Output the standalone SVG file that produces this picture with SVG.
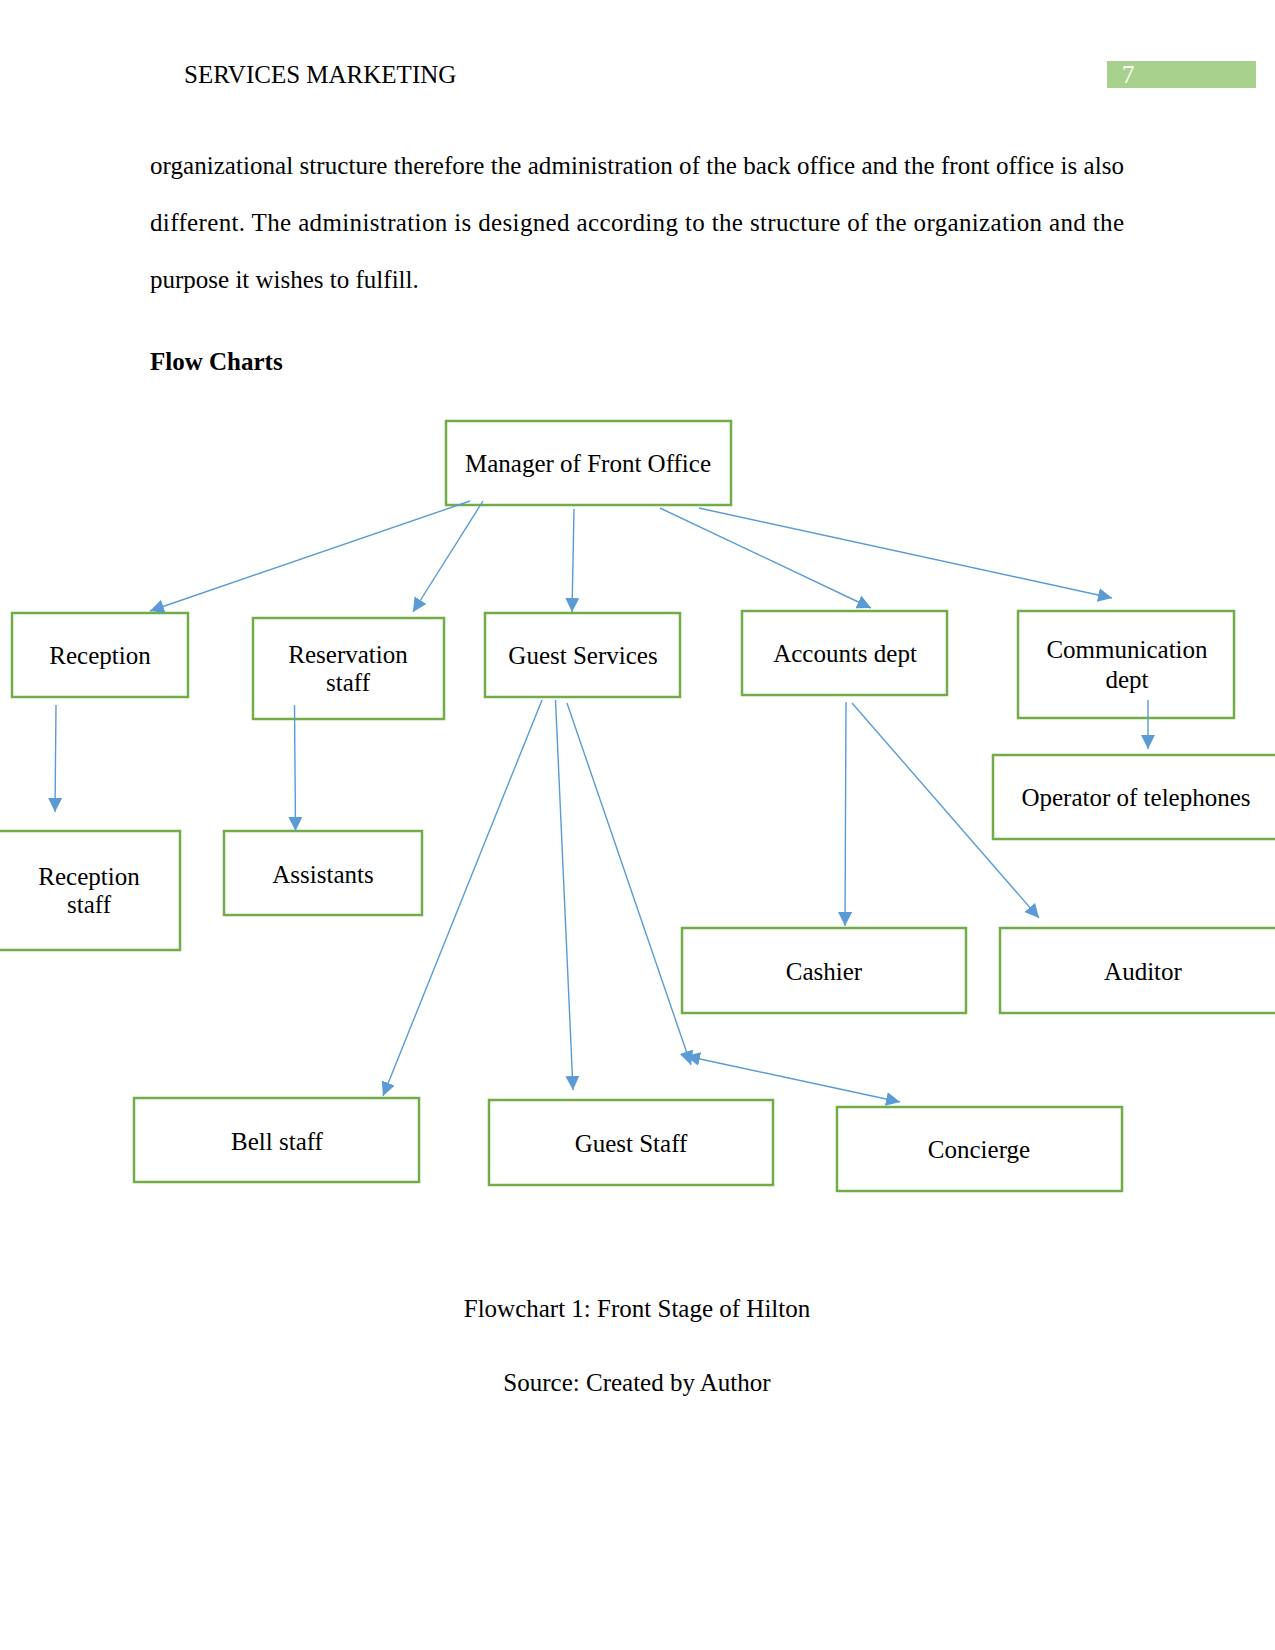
<svg xmlns="http://www.w3.org/2000/svg" width="1275" height="1650" viewBox="0 0 1275 1650">
<defs>
<style>
text{font-family:"Liberation Serif","Times New Roman",serif;font-size:25px;fill:#000}
.c{text-anchor:middle}
.box{fill:#fff;stroke:#70AD47;stroke-width:2.5}
.ln{stroke:#5B9BD5;stroke-width:1.4;fill:none}
</style>
<marker id="ah" viewBox="0 0 10 10" refX="10" refY="5" markerWidth="14" markerHeight="14" markerUnits="userSpaceOnUse" orient="auto-start-reverse">
<path d="M0,0 L10,5 L0,10 z" fill="#5B9BD5"/>
</marker>
</defs>
<rect width="1275" height="1650" fill="#fff"/>
<g id="header">
<text x="184" y="83">SERVICES MARKETING</text>
<rect x="1107" y="61" width="149" height="27" fill="#A9D18E"/>
<text x="1122" y="83" style="fill:#fff">7</text>
</g>
<g id="body">
<text x="150" y="173.5" textLength="974" lengthAdjust="spacing">organizational structure therefore the administration of the back office and the front office is also</text>
<text x="150" y="230.5" textLength="974" lengthAdjust="spacing">different. The administration is designed according to the structure of the organization and the</text>
<text x="150" y="288">purpose it wishes to fulfill.</text>
<text x="150" y="370" style="font-weight:bold">Flow Charts</text>
</g>
<g id="manager"><rect class="box" x="446" y="421" width="285" height="84"/><text class="c" x="588" y="472">Manager of Front Office</text></g>
<g id="reception"><rect class="box" x="12" y="613" width="176" height="84"/><text class="c" x="100" y="664">Reception</text></g>
<g id="reservation"><rect class="box" x="253" y="618" width="191" height="101"/><text class="c" x="348" y="663">Reservation</text><text class="c" x="348" y="691">staff</text></g>
<g id="guest-services"><rect class="box" x="485" y="613" width="195" height="84"/><text class="c" x="583" y="664">Guest Services</text></g>
<g id="accounts"><rect class="box" x="742" y="611" width="205" height="84"/><text class="c" x="845" y="662">Accounts dept</text></g>
<g id="communication"><rect class="box" x="1018" y="611" width="216" height="107"/><text class="c" x="1127" y="658">Communication</text><text class="c" x="1127" y="688">dept</text></g>
<g id="operator"><rect class="box" x="993" y="755" width="290" height="84"/><text class="c" x="1136" y="806">Operator of telephones</text></g>
<g id="reception-staff"><rect class="box" x="-2" y="831" width="182" height="119"/><text class="c" x="89" y="885">Reception</text><text class="c" x="89" y="913">staff</text></g>
<g id="assistants"><rect class="box" x="224" y="831" width="198" height="84"/><text class="c" x="323" y="883">Assistants</text></g>
<g id="cashier"><rect class="box" x="682" y="928" width="284" height="85"/><text class="c" x="824" y="980">Cashier</text></g>
<g id="auditor"><rect class="box" x="1000" y="928" width="285" height="85"/><text class="c" x="1143" y="980">Auditor</text></g>
<g id="bell-staff"><rect class="box" x="134" y="1098" width="285" height="84"/><text class="c" x="277" y="1150">Bell staff</text></g>
<g id="guest-staff"><rect class="box" x="489" y="1100" width="284" height="85"/><text class="c" x="631" y="1152">Guest Staff</text></g>
<g id="concierge"><rect class="box" x="837" y="1107" width="285" height="84"/><text class="c" x="979" y="1158">Concierge</text></g>
<g id="connectors">
<line class="ln" x1="470" y1="501" x2="150" y2="611" marker-end="url(#ah)"/>
<line class="ln" x1="483" y1="501" x2="413" y2="612" marker-end="url(#ah)"/>
<line class="ln" x1="574" y1="509" x2="572" y2="612" marker-end="url(#ah)"/>
<line class="ln" x1="660" y1="508" x2="871" y2="608" marker-end="url(#ah)"/>
<line class="ln" x1="699" y1="508" x2="1112" y2="598" marker-end="url(#ah)"/>
<line class="ln" x1="56" y1="705" x2="55" y2="812" marker-end="url(#ah)"/>
<line class="ln" x1="294.5" y1="705" x2="295.5" y2="831" marker-end="url(#ah)"/>
<line class="ln" x1="542" y1="700" x2="383" y2="1096" marker-end="url(#ah)"/>
<line class="ln" x1="555.5" y1="700" x2="573" y2="1090" marker-end="url(#ah)"/>
<line class="ln" x1="567" y1="703" x2="691" y2="1065" marker-end="url(#ah)"/>
<line class="ln" x1="686" y1="1056" x2="900" y2="1102" marker-start="url(#ah)" marker-end="url(#ah)"/>
<line class="ln" x1="846" y1="702" x2="845" y2="926" marker-end="url(#ah)"/>
<line class="ln" x1="852" y1="703" x2="1039" y2="918" marker-end="url(#ah)"/>
<line class="ln" x1="1148" y1="700" x2="1148" y2="749" marker-end="url(#ah)"/>
</g>
<g id="caption">
<text class="c" x="637" y="1317">Flowchart 1: Front Stage of Hilton</text>
<text class="c" x="637" y="1391">Source: Created by Author</text>
</g>
</svg>
